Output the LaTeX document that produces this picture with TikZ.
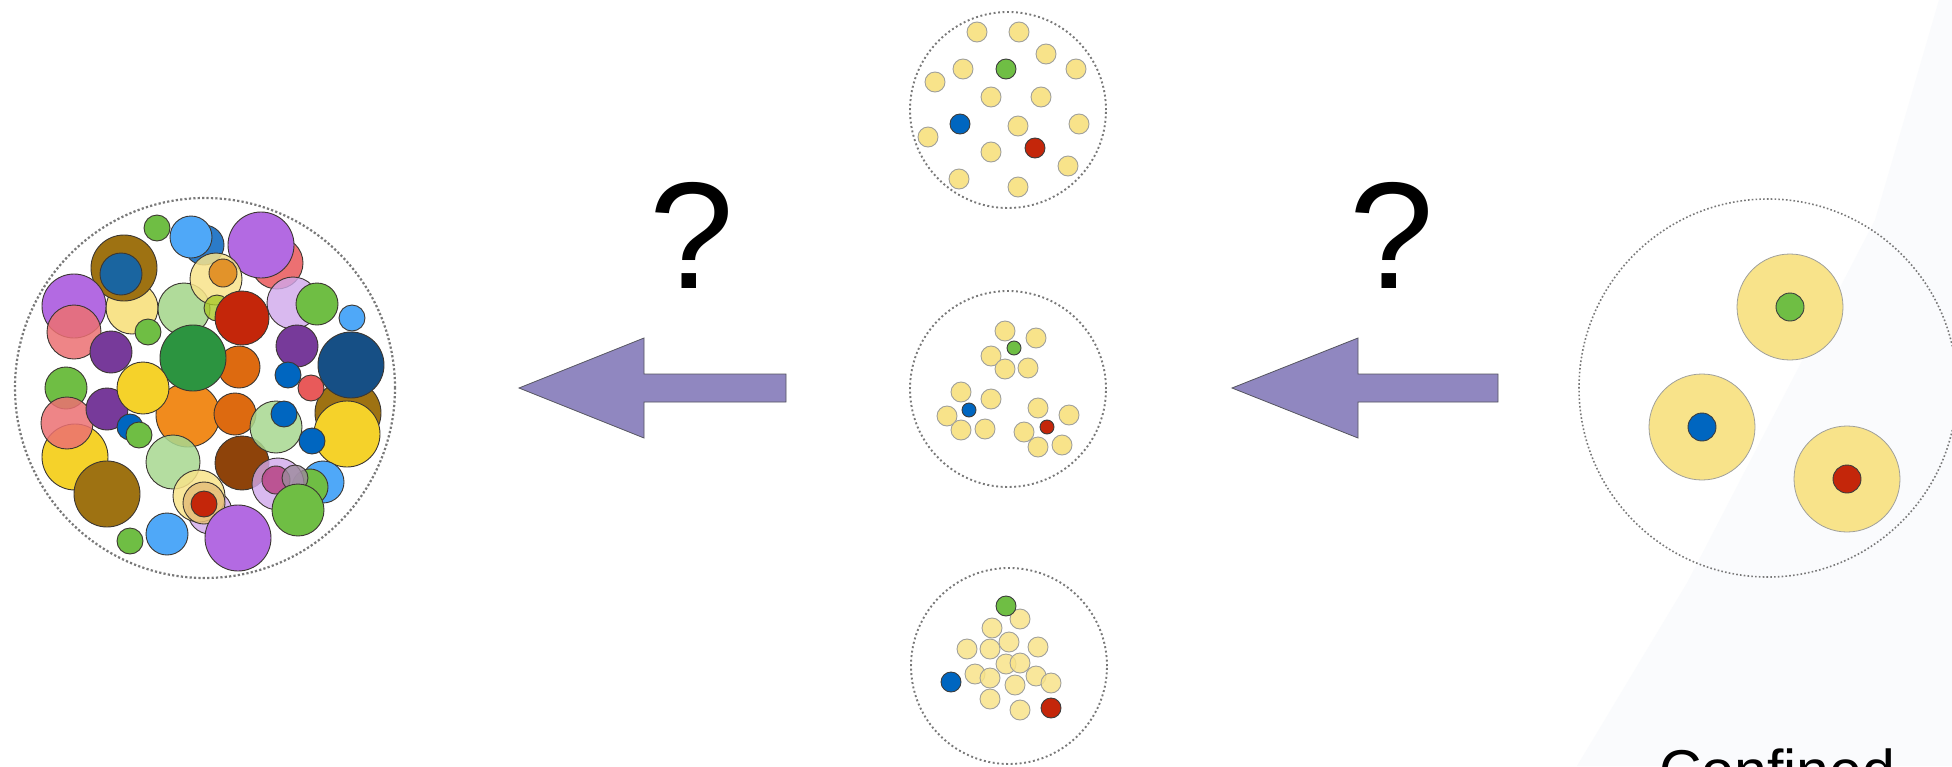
\documentclass[tikz,border=0pt]{standalone}
\usepackage{fontspec}
\setmainfont{Liberation Sans}

\definecolor{potgray}{RGB}{120,120,120}
\definecolor{blobedge}{RGB}{60,55,50}
\definecolor{yelEdge}{RGB}{160,160,155}
\definecolor{coreEdge}{RGB}{60,60,60}
\definecolor{arrowFill}{RGB}{144,135,192}
\definecolor{arrowEdge}{RGB}{85,85,95}
\definecolor{bgShade}{RGB}{250,251,253}
\definecolor{pYellow}{RGB}{248,227,138}
\definecolor{pGreen}{RGB}{111,190,68}
\definecolor{pBlue}{RGB}{0,102,192}
\definecolor{pRed}{RGB}{196,38,10}
\definecolor{cLBlue}{RGB}{79,168,248}
\definecolor{cMBlue}{RGB}{43,123,200}
\definecolor{cSalmon}{RGB}{236,112,114}
\definecolor{cPurple}{RGB}{179,106,226}
\definecolor{cBrown}{RGB}{158,114,18}
\definecolor{cDBlue}{RGB}{26,101,160}
\definecolor{cLGreen}{RGB}{168,216,144}
\definecolor{cOrange}{RGB}{224,138,30}
\definecolor{cOrange2}{RGB}{241,139,29}
\definecolor{cDOrange}{RGB}{221,106,16}
\definecolor{cLPurple}{RGB}{208,168,236}
\definecolor{cDPurple}{RGB}{119,58,154}
\definecolor{cNavy}{RGB}{22,79,133}
\definecolor{cDGreen}{RGB}{44,148,64}
\definecolor{cYellow}{RGB}{245,210,42}
\definecolor{cDBrown}{RGB}{142,67,10}
\definecolor{cRose}{RGB}{232,90,90}
\definecolor{cMagenta}{RGB}{184,74,138}
\definecolor{cGrayP}{RGB}{156,138,156}
\definecolor{cTan}{RGB}{229,190,122}
\definecolor{cLime}{RGB}{168,200,40}

\begin{document}
\begin{tikzpicture}[x=1pt,y=-1pt,
    pot/.style={circle, draw=potgray, line width=2.2pt,
        dash pattern=on 2.2pt off 2.2pt, inner sep=0pt},
    blob/.style={draw=blobedge, line width=0.9pt},
    yel/.style={fill=pYellow, draw=yelEdge, line width=0.9pt},
    core/.style={draw=coreEdge, line width=0.9pt},
    bigarrow/.style={fill=arrowFill, draw=arrowEdge, line width=0.8pt},
    qmark/.style={font=\fontsize{152}{152}\selectfont, inner sep=0pt, anchor=base}]

    \useasboundingbox (0,0) rectangle (1952,766);
    \clip (0,0) rectangle (1952,766);
    \fill[white] (0,0) rectangle (1952,766);
    \fill[bgShade] (1577,766) -- (1687,583) -- (1875,220) -- (1939,0)
        -- (1952,0) -- (1952,766) -- cycle;

    % containers
    \node[pot, minimum size=380pt] (mix) at (205,388) {};
    \node[pot, minimum size=196pt, line width=1.9pt,
        dash pattern=on 1.9pt off 2.6pt] (freeA) at (1008,110) {};
    \node[pot, minimum size=196pt, line width=1.9pt,
        dash pattern=on 1.9pt off 2.6pt] (freeB) at (1008,389) {};
    \node[pot, minimum size=196pt, line width=1.9pt,
        dash pattern=on 1.9pt off 2.6pt] (freeC) at (1009,666) {};
    \node[pot, minimum size=378pt, line width=1.6pt,
        dash pattern=on 1.6pt off 2.2pt] (conf) at (1768,388) {};

    % mixed bag
    \foreach \x/\y/\r/\c/\o in {204/245/20/cMBlue/1, 191/237/21/cLBlue/1,
        157/228/13/pGreen/1, 277/263/26/cSalmon/1, 261/245/33/cPurple/1,
        293/303/26/cLPurple/0.8, 317/304/21/pGreen/1, 352/318/13/cLBlue/1,
        132/308/26/pYellow/1, 124/268/33/cBrown/1, 121/274/21/cDBlue/1,
        74/306/32/cPurple/1, 74/332/27/cSalmon/0.85, 111/352/21/cDPurple/1,
        148/332/13/pGreen/1, 184/309/26/cLGreen/0.9, 216/279/26/pYellow/0.85,
        223/273/14/cOrange/0.9, 217/308/13/cLime/0.8, 242/318/27/pRed/1,
        297/346/21/cDPurple/1, 348/413/33/cBrown/1, 351/365/33/cNavy/1,
        347/434/33/cYellow/1, 288/375/13/pBlue/1, 311/388/13/cRose/1,
        188/415/32/cOrange2/1, 235/414/21/cDOrange/1, 239/367/21/cDOrange/1,
        193/358/33/cDGreen/1, 66/388/21/pGreen/1, 75/457/33/cYellow/1,
        67/423/26/cSalmon/0.85, 107/409/21/cDPurple/1, 130/427/13/pBlue/1,
        139/435/13/pGreen/1, 143/388/26/cYellow/1, 107/494/33/cBrown/1,
        173/462/27/cLGreen/0.85, 242/463/27/cDBrown/1, 276/427/26/cLGreen/0.85,
        284/414/13/pBlue/1, 312/441/13/pBlue/1, 323/482/21/cLBlue/1,
        310/487/18/pGreen/1, 278/484/26/cLPurple/0.8, 276/480/14/cMagenta/0.9,
        295/478/13/cGrayP/0.8, 298/510/26/pGreen/1, 210/512/22/cLPurple/0.8,
        199/496/26/pYellow/0.85, 204/503/21/cTan/0.85, 204/504/13/pRed/1,
        238/538/33/cPurple/1, 167/534/21/cLBlue/1, 130/541/13/pGreen/1}
        \draw[blob, fill=\c, fill opacity=\o] (\x,\y) circle[radius=\r pt];

    % free particles
    \foreach \x/\y in {977/32, 1019/32, 1046/54, 963/69, 1076/69, 935/82,
        991/97, 1041/97, 1018/126, 1079/124, 928/137, 991/152, 1068/166,
        959/179, 1018/187}
        \draw[yel] (\x,\y) circle[radius=10pt];
    \draw[core, fill=pGreen] (1006,69) circle[radius=10pt];
    \draw[core, fill=pBlue] (960,124) circle[radius=10pt];
    \draw[core, fill=pRed] (1035,148) circle[radius=10pt];

    % small clusters
    \foreach \x/\y in {1005/331, 1036/338, 991/356, 1005/369, 1028/368,
        961/392, 991/399, 947/416, 961/430, 985/429, 1038/408, 1069/415,
        1024/432, 1038/447, 1062/445}
        \draw[yel] (\x,\y) circle[radius=10pt];
    \draw[core, fill=pGreen] (1014,348) circle[radius=7pt];
    \draw[core, fill=pBlue] (969,410) circle[radius=7pt];
    \draw[core, fill=pRed] (1047,427) circle[radius=7pt];

    % one crowd
    \foreach \x/\y in {1020/619, 992/628, 1009/642, 967/649, 990/649,
        1038/647, 1006/664, 1020/663, 975/674, 990/678, 1036/676, 1051/683,
        1015/685, 990/699, 1020/710}
        \draw[yel, fill opacity=0.85] (\x,\y) circle[radius=10pt];
    \draw[core, fill=pGreen] (1006,606) circle[radius=10pt];
    \draw[core, fill=pBlue] (951,682) circle[radius=10pt];
    \draw[core, fill=pRed] (1051,708) circle[radius=10pt];

    % confined particles
    \foreach \x/\y/\c in {1790/307/pGreen, 1702/427/pBlue, 1847/479/pRed} {
        \draw[yel, line width=0.8pt] (\x,\y) circle[radius=53pt];
        \draw[core, fill=\c] (\x,\y) circle[radius=14pt];
    }

    % arrows
    \coordinate (tipA) at (519,388);
    \coordinate (tipB) at (1232,388);
    \draw[bigarrow] (tipA) -- ++(125,-50) -- ++(0,36) -- ++(142,0) -- ++(0,28)
        -- ++(-142,0) -- ++(0,36) -- cycle;
    \draw[bigarrow] (tipB) -- ++(126,-50) -- ++(0,36) -- ++(140,0) -- ++(0,28)
        -- ++(-140,0) -- ++(0,36) -- cycle;

    \node[qmark] (qA) at (692,288) {?};
    \node[qmark] (qB) at (1392,288) {?};
    \node[font=\fontsize{59}{59}\selectfont, inner sep=0pt, anchor=base west]
        (lblConf) at (1659,791) {Confined};
\end{tikzpicture}
\end{document}
